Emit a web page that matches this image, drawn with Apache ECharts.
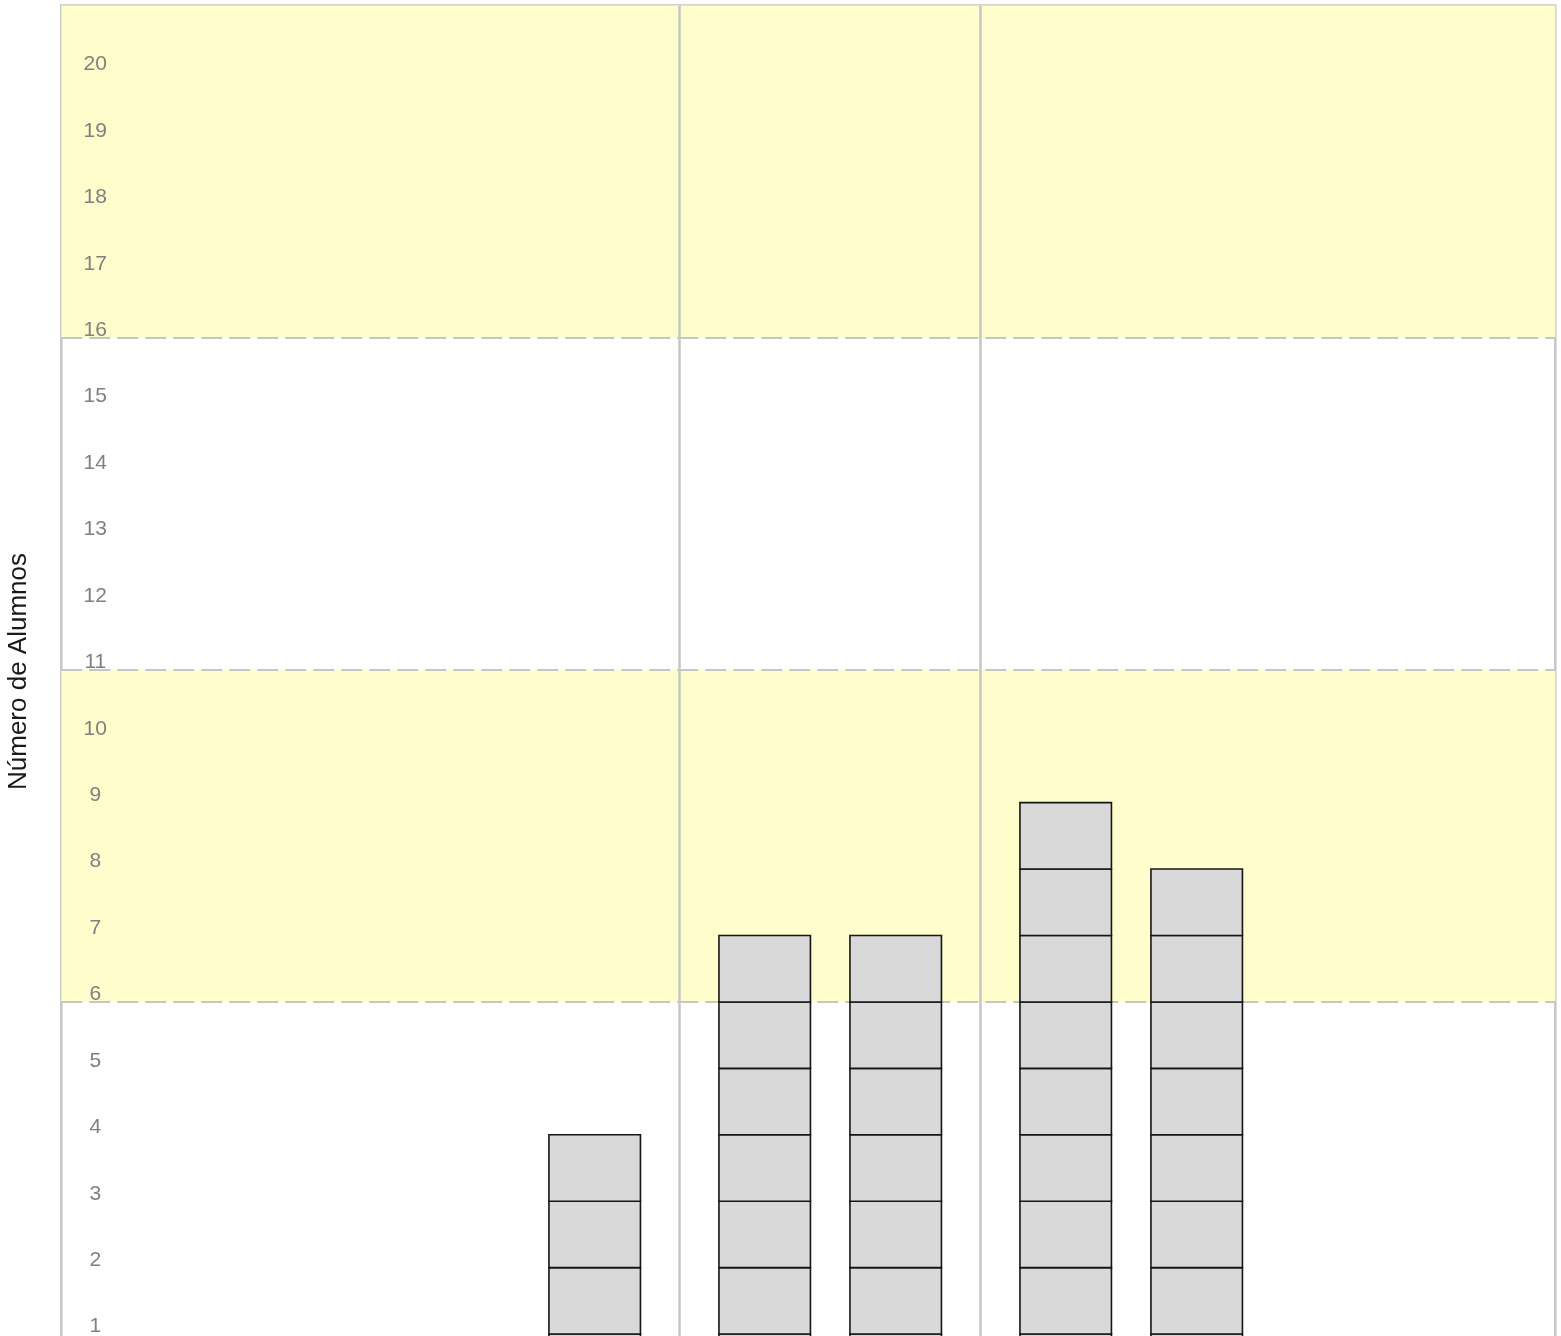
<!DOCTYPE html>
<html>
<head>
<meta charset="utf-8">
<title>Número de Alumnos</title>
<script src="https://cdn.jsdelivr.net/npm/echarts@6/dist/echarts.min.js"></script>
<style>
  html, body { margin: 0; padding: 0; background: #ffffff; overflow: hidden; }
  #chart { width: 1561px; height: 1420px; }
</style>
</head>
<body>
<div id="chart"></div>
<script>
// Group positions on the horizontal axis (each group holds two stacked columns)
const groups = [1, 2, 3];
// Number of students in the left and right column of each group
const leftCounts = [0, 7, 9];
const rightCounts = [4, 7, 8];
// Shaded horizontal bands and dashed separators on the count axis
const bands = [[6, 11], [16, 21]];
const dashedLevels = [6, 11, 16];
// Vertical group separators
const groupSeparators = [1.5, 2.5];
// Count-axis range and labelled ticks
const yMin = 0;
const yMax = 21;
const yStep = 1;
const yTickLabels = ['1', '2', '3', '4', '5', '6', '7', '8', '9', '10',
  '11', '12', '13', '14', '15', '16', '17', '18', '19', '20'];

const FONT = '"Liberation Sans", Arial, Helvetica, sans-serif';
const GRID_GRAY = '#c6c6c6';

// Draws one column as a stack of unit blocks, one block per student
function makeRenderer(side) {
  return function (params, api) {
    const g = api.value(0);
    const n = api.value(1);
    const children = [];
    const colOffset = 65.5;
    const colWidth = 91.5;
    for (let i = 0; i < n; i++) {
      const top = api.coord([g, i + 1]);
      const bottom = api.coord([g, i]);
      const cx = top[0] + side * colOffset;
      children.push({
        type: 'rect',
        shape: { x: cx - colWidth / 2, y: top[1], width: colWidth, height: bottom[1] - top[1] },
        style: { fill: '#d9d9d9', stroke: '#151515', lineWidth: 1.6 }
      });
    }
    return { type: 'group', children: children };
  };
}

const chart = echarts.init(document.getElementById('chart'), null, { renderer: 'canvas' });

chart.setOption({
  animation: false,
  backgroundColor: '#ffffff',
  grid: {
    left: 61.3,
    right: 5.7,
    top: 5.5,
    bottom: 19.5,
    show: true,
    borderColor: GRID_GRAY,
    borderWidth: 2.5,
    backgroundColor: 'transparent'
  },
  xAxis: {
    type: 'value',
    min: -0.5545,
    max: 4.409,
    show: false,
    splitLine: { show: false }
  },
  yAxis: {
    type: 'value',
    min: yMin,
    max: yMax,
    interval: yStep,
    z: 10,
    axisLine: { show: false },
    axisTick: { show: false },
    splitLine: { show: false },
    axisLabel: {
      inside: true,
      margin: 34,
      color: '#808080',
      fontSize: 21,
      lineHeight: 15,
      fontFamily: FONT,
      align: 'center',
      verticalAlign: 'bottom',
      formatter: function (v) {
        const label = yTickLabels.find(t => Number(t) === v);
        return label || '';
      }
    }
  },
  graphic: [{
    type: 'text',
    x: 19,
    y: 671.5,
    rotation: Math.PI / 2,
    style: {
      text: 'Número de Alumnos',
      fontSize: 26,
      fontFamily: FONT,
      fill: '#1a1a1a',
      align: 'center',
      verticalAlign: 'middle'
    }
  }],
  series: [
    {
      // Background bands and guide lines
      type: 'line',
      data: [],
      z: 1,
      silent: true,
      markArea: {
        silent: true,
        itemStyle: { color: '#fffdcc' },
        data: bands.map(b => [{ yAxis: b[0] }, { yAxis: b[1] }])
      },
      markLine: {
        silent: true,
        symbol: 'none',
        label: { show: false },
        data: dashedLevels.map(v => ({
          yAxis: v,
          lineStyle: { color: GRID_GRAY, width: 2, type: [21, 7] }
        })).concat(groupSeparators.map(v => ({
          xAxis: v,
          lineStyle: { color: GRID_GRAY, width: 2.5, type: 'solid' }
        })))
      }
    },
    {
      type: 'custom',
      z: 5,
      renderItem: makeRenderer(-1),
      data: groups.map((g, i) => [g, leftCounts[i]])
    },
    {
      type: 'custom',
      z: 5,
      renderItem: makeRenderer(1),
      data: groups.map((g, i) => [g, rightCounts[i]])
    }
  ]
});
</script>
</body>
</html>
